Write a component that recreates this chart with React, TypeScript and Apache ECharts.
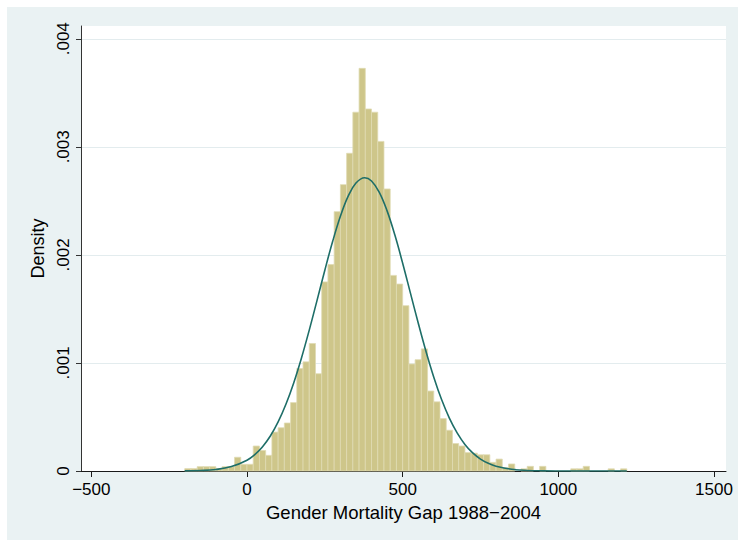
import React, { useEffect, useRef } from "react";
import * as echarts from "echarts";

// Histogram: bins of width 20 starting at -200
const BIN_START = -200;
const BIN_WIDTH = 20;
const DENSITY = [
  0.000022, 0.000022, 0.00004, 0.00004, 0.00004, 0.000022, 0.00004, 0.00004,
  0.000127, 0.000062, 0.000062, 0.000231, 0.00019, 0.000145, 0.00036, 0.0004,
  0.000444, 0.000633, 0.000948, 0.00101, 0.00118, 0.0009, 0.00175, 0.00191,
  0.0024, 0.00265, 0.00294, 0.00332, 0.003726, 0.00335, 0.00332, 0.00305,
  0.00261, 0.00181, 0.00173, 0.00153, 0.00099, 0.00103, 0.00113, 0.00074,
  0.00064, 0.000485, 0.000377, 0.000254, 0.000231, 0.00017, 0.000165, 0.00015,
  0.00015, 0.00008, 0.00011, 0.00003, 0.000065, 0, 0.00002, 0.000043,
  0, 0.000043, 0, 0, 0, 0, 0.00002, 0.00002,
  0.000043, 0, 0, 0, 0.00002, 0, 0.00002,
];

// Normal density overlay
const CURVE_X = [
  -200, -150, -100, -50, 0, 25, 50, 75, 100, 125, 150, 175, 200, 225, 250, 275,
  300, 325, 350, 378, 400, 425, 450, 475, 500, 525, 550, 575, 600, 625, 650, 675,
  700, 725, 750, 775, 800, 850, 900, 950, 1000, 1100, 1220,
];
const CURVE_Y = [
  0.0000012, 0.0000043, 0.0000137, 0.000041, 0.0000996, 0.000152, 0.000225,
  0.000324, 0.000454, 0.000617, 0.000815, 0.001046, 0.001304, 0.001579,
  0.001858, 0.002123, 0.002357, 0.002543, 0.002665, 0.002714, 0.002684,
  0.002579, 0.002407, 0.002183, 0.001923, 0.001646, 0.001369, 0.001106,
  0.000868, 0.000661, 0.00049, 0.000353, 0.000246, 0.000167, 0.00011,
  0.0000708, 0.000044, 0.0000157, 0.000005, 0.0000013, 0.0000003, 0, 0,
];

const X_TICKS = [-500, 0, 500, 1000, 1500];
const Y_TICKS = [0, 0.001, 0.002, 0.003, 0.004];
const Y_LABELS = ["0", ".001", ".002", ".003", ".004"];
const X_TITLE = "Gender Mortality Gap 1988\u22122004";
const Y_TITLE = "Density";

const FONT = "'Liberation Sans', Arial, Helvetica, sans-serif";

export default function App() {
  const ref = useRef<HTMLDivElement>(null);
  useEffect(() => {
    if (!ref.current) return;
    const chart = echarts.init(ref.current, null, { renderer: "svg" });
    const barData = DENSITY.map((d, i) => [
      BIN_START + i * BIN_WIDTH,
      BIN_START + (i + 1) * BIN_WIDTH,
      d,
    ]).filter((r) => r[2] > 0);
    const lineData = CURVE_X.map((x, i) => [x, CURVE_Y[i]]);
    chart.setOption({
      animation: false,
      backgroundColor: "#EAF2F3",
      grid: {
        left: 74,
        right: 12,
        top: 19,
        bottom: 69,
        show: true,
        backgroundColor: "#FFFFFF",
        borderWidth: 0,
      },
      xAxis: {
        type: "value",
        min: -533.2,
        max: 1538.6,
        axisLine: { show: true, onZero: false, lineStyle: { color: "#1a1a1a", width: 1 } },
        axisTick: {
          show: true,
          length: 6,
          customValues: X_TICKS,
          lineStyle: { color: "#1a1a1a", width: 1 },
        },
        axisLabel: {
          customValues: X_TICKS,
          formatter: (v: number) => (v < 0 ? "\u2212" + Math.abs(v) : String(v)),
          fontFamily: FONT,
          fontSize: 17,
          color: "#000",
          margin: 10,
        },
        splitLine: { show: false },
        name: X_TITLE,
        nameLocation: "middle",
        nameGap: 31,
        nameTextStyle: { fontFamily: FONT, fontSize: 18.5, color: "#000" },
      },
      yAxis: {
        type: "value",
        min: 0,
        max: 0.004118,
        axisLine: { show: true, onZero: false, lineStyle: { color: "#333", width: 1 } },
        axisTick: {
          show: true,
          length: 5,
          customValues: Y_TICKS,
          lineStyle: { color: "#333", width: 1 },
        },
        axisLabel: {
          customValues: Y_TICKS,
          rotate: 90,
          formatter: (v: number) => {
            const i = Y_TICKS.findIndex((t) => Math.abs(t - v) < 1e-9);
            return i >= 0 ? Y_LABELS[i] : "";
          },
          fontFamily: FONT,
          fontSize: 17,
          color: "#000",
          margin: 9,
        },
        splitLine: { show: true, lineStyle: { color: "#E3ECEE", width: 1 } },
        name: Y_TITLE,
        nameLocation: "middle",
        nameRotate: 90,
        nameGap: 32,
        nameTextStyle: { fontFamily: FONT, fontSize: 18, color: "#000" },
      },
      series: [
        {
          type: "custom",
          data: barData,
          encode: { x: [0, 1], y: 2 },
          renderItem: (params: any, api: any) => {
            const p0 = api.coord([api.value(0), api.value(2)]);
            const p1 = api.coord([api.value(1), 0]);
            return {
              type: "rect",
              shape: { x: p0[0], y: p0[1], width: p1[0] - p0[0], height: p1[1] - p0[1] },
              style: { fill: "#CEC68A", stroke: "#E0DBB2", lineWidth: 0.8 },
            };
          },
          z: 2,
        },
        {
          type: "line",
          data: lineData,
          smooth: 0.4,
          showSymbol: false,
          lineStyle: { color: "#1E6E68", width: 1.6 },
          z: 3,
        },
      ],
    });
    return () => chart.dispose();
  }, []);
  return (
    <div
      ref={ref}
      style={{ position: "fixed", left: 7, top: 7, width: 731, height: 533 }}
    />
  );
}
